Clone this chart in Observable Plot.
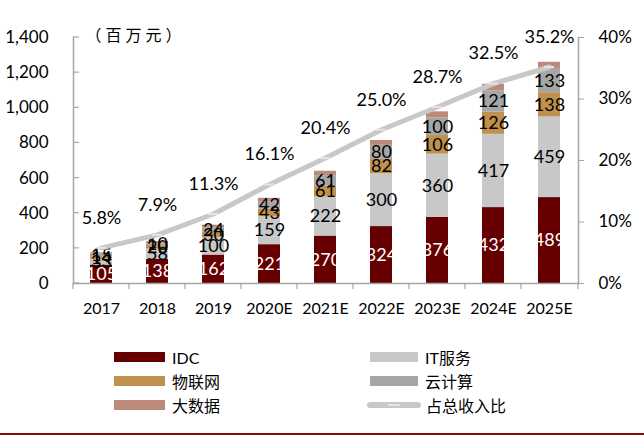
<!DOCTYPE html>
<html><head><meta charset="utf-8">
<script src="https://cdn.jsdelivr.net/npm/d3@7"></script>
<script src="https://cdn.jsdelivr.net/npm/@observablehq/plot@0.6"></script>
<style>
body{margin:0;background:#fff;font-family:Lato,"Noto Sans CJK SC",sans-serif;}
#wrap{position:relative;width:644px;height:438px;}
.leg{position:absolute;font-size:16px;color:#000;display:flex;align-items:center;font-family:Lato,"Noto Sans CJK SC",sans-serif;}
.sw{display:inline-block;height:10px;margin-right:7px;}
#bottomline{position:absolute;left:0;top:433px;width:644px;height:2px;background:#8b0a0a;}
</style></head>
<body><div id="wrap"></div>
<script>
const years = ["2017","2018","2019","2020E","2021E","2022E","2023E","2024E","2025E"];
const seriesNames = ["IDC","IT服务","物联网","云计算","大数据"];
const idc = [105,138,162,221,270,324,376,432,489];
const itService = [33,58,100,159,222,300,360,417,459];
const iot = [14,20,30,43,61,82,106,126,138];
const cloud = [15,10,24,42,61,80,100,121,133];
const bigData = [8,12,16,20,25,28,35,38,40];
const share = [5.8,7.9,11.3,16.1,20.4,25.0,28.7,32.5,35.2];
const colors = ["#660000","#c8c8c8","#c0904d","#a6a6a6","#bc8a7a"];
const leftTicks = [0,200,400,600,800,1000,1200,1400];
const rightTicks = [0,10,20,30,40];
const unitTitle = "（百万元）";

const seriesValues = [idc, itService, iot, cloud, bigData];
const rows = [];
seriesNames.forEach((s, i) => years.forEach((y, j) => rows.push({year: y, series: s, value: seriesValues[i][j]})));
const lineRows = years.map((y, j) => ({year: y, pct: share[j]}));
const k = 1400 / 40; // right axis scale factor

const font = "Lato, 'Noto Sans CJK SC', sans-serif";
const chart = Plot.plot({
  width: 644, height: 330,
  marginTop: 37, marginBottom: 47, marginLeft: 73, marginRight: 66,
  style: {fontFamily: font, fontSize: "16px", color: "#000", background: "#fff"},
  x: {type: "band", domain: years, paddingInner: 0.6, paddingOuter: 0.3, align: 0.5, label: null},
  y: {domain: [0, 1400], label: null},
  color: {domain: seriesNames, range: colors},
  marks: [
    Plot.barY(rows, Plot.stackY({x: "year", y: "value", z: "series", fill: "series", order: seriesNames})),
    Plot.text(rows.filter(d => d.series !== "大数据"), Plot.stackY({x: "year", y: "value", z: "series", order: seriesNames, text: d => String(d.value), fill: d => d.series === "IDC" ? "#fff" : "#000", fontSize: 18})),
    Plot.line(lineRows, {x: "year", y: d => d.pct * k, stroke: "#c8c8c8", strokeWidth: 5, curve: "linear"}),
    Plot.tickY(lineRows, {x: "year", y: d => d.pct * k, stroke: "#e4e4e4", strokeWidth: 2, insetLeft: 6, insetRight: 6}),
    Plot.text(lineRows, {x: "year", y: d => d.pct * k, text: d => d.pct.toFixed(1) + "%", dy: -30, fontSize: 18, fill: "#000"}),
    Plot.text([unitTitle], {frameAnchor: "top-left", dx: 12, dy: -8, fontSize: 16, text: d => d, fill: "#000", className: "unit-title"}),
    Plot.ruleY([0], {stroke: "#a6a6a6", strokeWidth: 1.5}),
    Plot.axisY(leftTicks, {anchor: "left", label: null, tickFormat: d3.format(","), tickSize: 0, tickPadding: 25, stroke: "#a6a6a6", fill: "#000", fontSize: 17}),
    Plot.axisY(rightTicks.map(v => v * k), {anchor: "right", label: null, tickFormat: d => Math.round(d / k) + "%", tickSize: 5, tickPadding: 15, stroke: "#a6a6a6", fill: "#000", fontSize: 17}),
    Plot.axisX({anchor: "bottom", label: null, tickSize: 0, tickPadding: 19, fill: "#000", fontSize: 16}),
    Plot.frame({anchor: "left", stroke: "#a6a6a6", strokeWidth: 1.5}),
    Plot.frame({anchor: "right", stroke: "#a6a6a6", strokeWidth: 1.5})
  ]
});
document.getElementById("wrap").appendChild(chart);
d3.select(chart).selectAll(".unit-title text").style("letter-spacing", "4px");

// extra tick marks from the library's scales
const xs = chart.scale("x"), ys = chart.scale("y");
const svg = d3.select(chart);
const x0 = 73, x1 = 644 - 66, y0 = ys.apply(0);
const step = (x1 - x0) / years.length;
const g = svg.append("g").attr("stroke", "#a6a6a6").attr("stroke-width", 1.2);
years.forEach((y, i) => {
  const xb = xs.apply(y) + xs.bandwidth / 2 - step / 2;
  g.append("line").attr("x1", xb).attr("x2", xb).attr("y1", y0).attr("y2", y0 + 6);
});
g.append("line").attr("x1", x1).attr("x2", x1).attr("y1", y0).attr("y2", y0 + 6);
leftTicks.forEach(t => {
  const yy = ys.apply(t);
  g.append("line").attr("x1", x0).attr("x2", x0 + 6).attr("y1", yy).attr("y2", yy);
});

// legend
const wrap = document.getElementById("wrap");
const legendItems = [
  {label: "IDC", color: colors[0], left: 114, top: 357, w: 51},
  {label: "物联网", color: colors[2], left: 114, top: 381, w: 51},
  {label: "大数据", color: colors[4], left: 114, top: 405, w: 51},
  {label: "IT服务", color: colors[1], left: 370, top: 357, w: 48},
  {label: "云计算", color: colors[3], left: 370, top: 381, w: 48},
  {label: "占总收入比", color: "line", left: 367, top: 405, w: 54}
];
legendItems.forEach(it => {
  const d = document.createElement("div");
  d.className = "leg";
  d.style.left = it.left + "px";
  d.style.top = (it.top - 11) + "px";
  d.style.height = "22px";
  let sw;
  if (it.color === "line") {
    sw = `<span style="display:inline-block;position:relative;width:${it.w}px;height:6px;border-radius:3px;background:#c8c8c8;margin-right:5px;"><span style="position:absolute;left:${it.w/2-6}px;top:2px;width:12px;height:2px;background:#e4e4e4;"></span></span>`;
  } else {
    sw = `<span class="sw" style="width:${it.w}px;background:${it.color};"></span>`;
  }
  d.innerHTML = sw + `<span>${it.label}</span>`;
  wrap.appendChild(d);
});
const bl = document.createElement("div"); bl.id = "bottomline"; wrap.appendChild(bl);
</script>
</body></html>
